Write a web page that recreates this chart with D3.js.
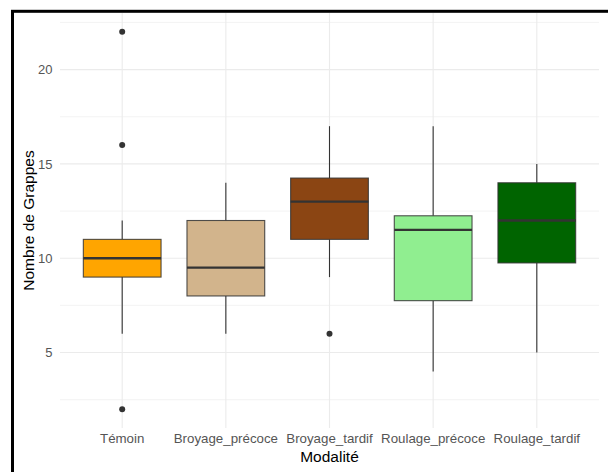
<!DOCTYPE html>
<html>
<head>
<meta charset="utf-8">
<script src="https://cdn.jsdelivr.net/npm/d3@7"></script>
<style>
  html, body { margin: 0; padding: 0; background: #ffffff; }
  svg { display: block; font-family: "Liberation Sans", Arial, sans-serif; }
</style>
</head>
<body>
<div id="chart"></div>
<script>
// Box-plot summaries per treatment
const categories   = ["Témoin", "Broyage_précoce", "Broyage_tardif", "Roulage_précoce", "Roulage_tardif"];
const fills        = ["#FFA500", "#D2B48C", "#8B4513", "#90EE90", "#006400"];
const q1           = [9, 8, 11, 7.75, 9.75];
const medians      = [10, 9.5, 13, 11.5, 12];
const q3           = [11, 12, 14.25, 12.25, 14];
const whiskerLow   = [6, 6, 9, 4, 5];
const whiskerHigh  = [12, 14, 17, 17, 15];
const outliers     = [[2, 16, 22], [], [6], [], []];
const yMajorTicks  = [5, 10, 15, 20];
const yMinorTicks  = [2.5, 7.5, 12.5, 17.5, 22.5];

const W = 608, H = 472;
const panel = { left: 60, right: 599, top: 13, bottom: 428 };

const svg = d3.select("#chart").append("svg")
  .attr("width", W).attr("height", H);

const x = d3.scaleBand()
  .domain(categories)
  .range([panel.left, panel.right])
  .paddingOuter(0.1)
  .paddingInner(0);

const y = d3.scaleLinear()
  .domain([1, 23])
  .range([panel.bottom, panel.top]);

const xc = c => x(c) + x.bandwidth() / 2;
const boxW = x.bandwidth() * 0.75;

// Grid
const grid = svg.append("g");
grid.selectAll("line.minor").data(yMinorTicks).join("line")
  .attr("x1", panel.left).attr("x2", panel.right)
  .attr("y1", d => y(d)).attr("y2", d => y(d))
  .attr("stroke", "#EBEBEB").attr("stroke-width", 0.6);
grid.selectAll("line.major").data(yMajorTicks).join("line")
  .attr("x1", panel.left).attr("x2", panel.right)
  .attr("y1", d => y(d)).attr("y2", d => y(d))
  .attr("stroke", "#EBEBEB").attr("stroke-width", 1.1);
grid.selectAll("line.vert").data(categories).join("line")
  .attr("x1", d => xc(d)).attr("x2", d => xc(d))
  .attr("y1", panel.top).attr("y2", panel.bottom)
  .attr("stroke", "#EBEBEB").attr("stroke-width", 1.1);

// Axes (text only)
const yAxis = svg.append("g")
  .attr("transform", `translate(${panel.left},0)`)
  .call(d3.axisLeft(y).tickValues(yMajorTicks).tickSize(0).tickPadding(7.5));
yAxis.select(".domain").remove();
yAxis.selectAll("text")
  .attr("fill", "#555555").style("font-size", "13px")
  .style("font-family", "'Liberation Sans', Arial, sans-serif");

const xAxis = svg.append("g")
  .attr("transform", `translate(0,${panel.bottom})`)
  .call(d3.axisBottom(x).tickSize(0).tickPadding(6));
xAxis.select(".domain").remove();
xAxis.selectAll("text")
  .attr("fill", "#555555").style("font-size", "13.3px")
  .style("font-family", "'Liberation Sans', Arial, sans-serif");

// Boxes
const data = categories.map((c, i) => ({
  c, fill: fills[i], q1: q1[i], med: medians[i], q3: q3[i],
  lo: whiskerLow[i], hi: whiskerHigh[i], out: outliers[i]
}));

const g = svg.append("g");
const boxes = g.selectAll("g.box").data(data).join("g").attr("class", "box");

boxes.append("line")
  .attr("x1", d => xc(d.c)).attr("x2", d => xc(d.c))
  .attr("y1", d => y(d.q3)).attr("y2", d => y(d.hi))
  .attr("stroke", "#333333").attr("stroke-width", 1.1);
boxes.append("line")
  .attr("x1", d => xc(d.c)).attr("x2", d => xc(d.c))
  .attr("y1", d => y(d.q1)).attr("y2", d => y(d.lo))
  .attr("stroke", "#333333").attr("stroke-width", 1.1);
boxes.append("rect")
  .attr("x", d => xc(d.c) - boxW / 2)
  .attr("width", boxW)
  .attr("y", d => y(d.q3))
  .attr("height", d => y(d.q1) - y(d.q3))
  .attr("fill", d => d.fill)
  .attr("stroke", "#333333").attr("stroke-opacity", 0.85).attr("stroke-width", 1.1);
boxes.append("line")
  .attr("x1", d => xc(d.c) - boxW / 2).attr("x2", d => xc(d.c) + boxW / 2)
  .attr("y1", d => y(d.med)).attr("y2", d => y(d.med))
  .attr("stroke", "#333333").attr("stroke-width", 2.3);
boxes.selectAll("circle").data(d => d.out.map(v => ({ c: d.c, v }))).join("circle")
  .attr("cx", d => xc(d.c)).attr("cy", d => y(d.v))
  .attr("r", 3).attr("fill", "#333333");

// Axis titles
svg.append("text")
  .attr("x", (panel.left + panel.right) / 2).attr("y", 461.5)
  .attr("text-anchor", "middle").attr("fill", "#000")
  .style("font-size", "15.5px").text("Modalité");
svg.append("text")
  .attr("transform", `translate(34,${(panel.top + panel.bottom) / 2}) rotate(-90)`)
  .attr("text-anchor", "middle").attr("fill", "#000")
  .style("font-size", "15.5px").text("Nombre de Grappes");

// Outer frame
svg.append("rect")
  .attr("x", 12.5).attr("y", 11.3)
  .attr("width", W + 20).attr("height", H + 20)
  .attr("fill", "none").attr("stroke", "#000").attr("stroke-width", 3);
</script>
</body>
</html>
